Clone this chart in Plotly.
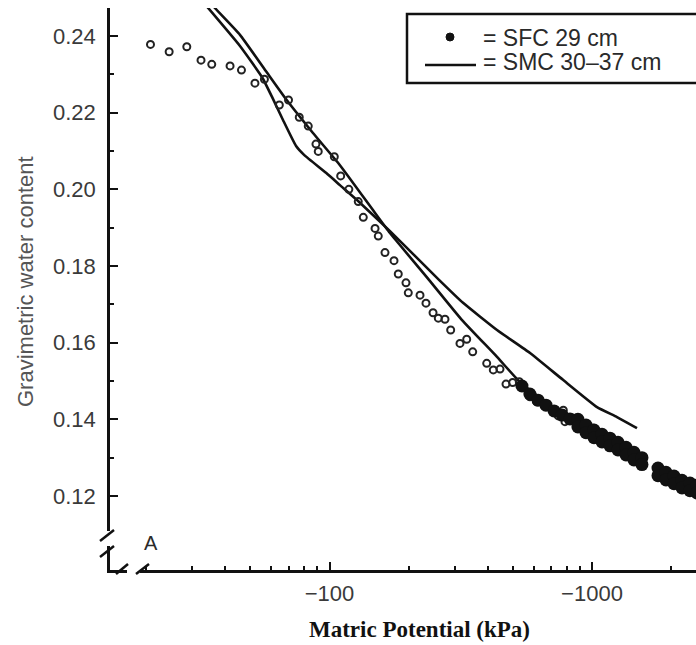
import plotly.graph_objects as go

# ---------------- data ----------------
# SFC 29 cm: sparse measured points (matric potential kPa, gravimetric water content)
sfc_psi = [-20.8, -24.5, -28.6, -32.4, -35.6, -41.8, -46.2, -52.0, -56.5, -64.4,
           -69.8, -76.7, -83.0, -88.8, -90.6, -104.3, -110.3, -118.5, -128.7, -134.5,
           -149.1, -153.4, -162.7, -176.1, -182.8, -195.6, -199.6, -221.2, -233.1, -248.0,
           -259.7, -275.4, -289.5, -314.1, -333.2, -351.2, -397.1, -420.7, -446.2, -470.3,
           -498.7, -528.4, -580.5, -615.6, -662.2, -712.0, -744.0, -777.5, -789.0, -849.0,
           -1012.0]
sfc_theta = [0.2378, 0.2359, 0.2372, 0.2337, 0.2326, 0.2322, 0.2311, 0.2277, 0.2287, 0.2220,
             0.2233, 0.2188, 0.2165, 0.2118, 0.2099, 0.2085, 0.2035, 0.2000, 0.1968, 0.1927,
             0.1898, 0.1878, 0.1835, 0.1814, 0.1779, 0.1756, 0.1730, 0.1724, 0.1703, 0.1678,
             0.1664, 0.1661, 0.1633, 0.1598, 0.1609, 0.1576, 0.1546, 0.1529, 0.1531, 0.1492,
             0.1496, 0.1498, 0.1459, 0.1446, 0.1437, 0.1420, 0.1409, 0.1424, 0.1394, 0.1403,
             0.1377]

# SFC 29 cm: densely logged part (points overlap into a solid band)
sfc_dense_psi = [-541, -580, -623, -668, -717, -769, -824,
                 -884, -884, -949, -949, -1018, -1018, -1092, -1092, -1171, -1171,
                 -1256, -1256, -1348, -1348, -1445, -1445, -1550, -1550,
                 -1784, -1784, -1914, -1914, -2053, -2053, -2202, -2202,
                 -2362, -2362, -2512, -2512]
sfc_dense_theta = [0.1487, 0.1466, 0.1450, 0.1437, 0.1422, 0.1411, 0.1401,
                   0.1400, 0.1380, 0.1385, 0.1365, 0.1372, 0.1352, 0.1361, 0.1341, 0.1351, 0.1331,
                   0.1340, 0.1320, 0.1327, 0.1307, 0.1314, 0.1294, 0.1300, 0.1282,
                   0.1273, 0.1253, 0.1262, 0.1242, 0.1252, 0.1232, 0.1241, 0.1221,
                   0.1234, 0.1214, 0.1228, 0.1208]

# SMC 30-37 cm: two curves
smc1_psi = [-34.7, -36.6, -45.6, -57.6, -68.7, -86.5, -109.6, -146.4, -170.0, -239.3,
            -319.8, -434.6, -531.8, -755.3, -1073, -1336]
smc1_theta = [0.2494, 0.2473, 0.2403, 0.2306, 0.2233, 0.2147, 0.2063, 0.1946, 0.1886, 0.1764,
              0.1659, 0.1563, 0.1497, 0.1419, 0.1364, 0.1328]

smc2_psi = [-32.5, -45.6, -55.3, -60.4, -66.5, -74.6, -80.0, -97.0, -109.6, -127.3,
            -170.0, -261.3, -322.6, -434.6, -580.5, -775.3, -1045, -1245, -1484]
smc2_theta = [0.2494, 0.2374, 0.2293, 0.2241, 0.2181, 0.2113, 0.2090, 0.2043, 0.2011, 0.1972,
              0.1891, 0.1764, 0.1704, 0.1633, 0.1573, 0.1503, 0.1432, 0.1406, 0.1377]

x_tick_vals = [100, 1000]
x_tick_text = ["\u2212100", "\u22121000"]
x_minor_vals = [20, 30, 40, 50, 60, 70, 80, 90, 200, 300, 400, 500, 600, 700, 800, 900, 2000]

legend_labels = ["= SFC 29 cm", "= SMC 30\u201337 cm"]

# ---------------- figure ----------------
W, H = 696, 645
ML, MR, MT, MB = 110, 0, 8, 75
PW, PH = W - ML - MR, H - MT - MB


def px(x):
    return (x - ML) / PW


def py(y):
    return (H - MB - y) / PH


fig = go.Figure()

fig.add_trace(go.Scatter(x=[-v for v in smc1_psi], y=smc1_theta, mode="lines",
                         line=dict(color="#111111", width=2.6, shape="spline", smoothing=0.4),
                         showlegend=False))
fig.add_trace(go.Scatter(x=[-v for v in smc2_psi], y=smc2_theta, mode="lines",
                         line=dict(color="#111111", width=2.6, shape="spline", smoothing=0.4),
                         showlegend=False))
fig.add_trace(go.Scatter(x=[-v for v in sfc_psi], y=sfc_theta, mode="markers",
                         marker=dict(symbol="circle-open", size=7, color="#222222",
                                     line=dict(width=2, color="#222222")),
                         showlegend=False))
fig.add_trace(go.Scatter(x=[-v for v in sfc_dense_psi], y=sfc_dense_theta, mode="markers",
                         marker=dict(symbol="circle", size=13, color="#111111",
                                     line=dict(width=0)),
                         showlegend=False))

tick_font = dict(family="Liberation Sans, Arial, sans-serif", size=22, color="#3a3a3a")

fig.update_xaxes(type="log", range=[1.1638, 3.3962],
                 tickvals=x_tick_vals, ticktext=x_tick_text,
                 ticks="inside", ticklen=8, tickwidth=2, tickcolor="#111",
                 showline=True, linewidth=2.5, linecolor="#111",
                 showgrid=False, zeroline=False, tickfont=tick_font,
                 ticklabelstandoff=2,
                 minor=dict(tickvals=x_minor_vals, ticks="inside", ticklen=4,
                            tickwidth=2, tickcolor="#111", showgrid=False))
fig.update_yaxes(range=[0.1007, 0.2473], tick0=0, dtick=0.02, tickformat=".2f",
                 ticks="inside", ticklen=8, tickwidth=2, tickcolor="#111",
                 showline=True, linewidth=2.5, linecolor="#111",
                 showgrid=False, zeroline=False, tickfont=tick_font,
                 ticklabelstandoff=7,
                 minor=dict(dtick=0.01, tick0=0, ticks="inside", ticklen=4,
                            tickwidth=2, tickcolor="#111", showgrid=False))

shapes = []
# axis breaks
shapes.append(dict(type="rect", xref="paper", yref="paper",
                   x0=px(100), x1=px(120), y0=py(546), y1=py(531),
                   fillcolor="white", line=dict(width=0), layer="above"))
shapes.append(dict(type="rect", xref="paper", yref="paper",
                   x0=px(127), x1=px(140), y0=py(576), y1=py(563),
                   fillcolor="white", line=dict(width=0), layer="above"))
for (xa, ya, xb, yb) in [(100, 541, 114, 530), (100, 557, 114, 546),
                         (116, 574, 128, 564), (136, 574, 149, 564)]:
    shapes.append(dict(type="line", xref="paper", yref="paper",
                       x0=px(xa), y0=py(ya), x1=px(xb), y1=py(yb),
                       line=dict(color="#111", width=2.5), layer="above"))
# legend box
shapes.append(dict(type="rect", xref="paper", yref="paper",
                   x0=px(407), x1=px(712), y0=py(83), y1=py(14),
                   fillcolor="white", line=dict(color="#111", width=2.5), layer="above"))
shapes.append(dict(type="circle", xref="paper", yref="paper",
                   x0=px(446), x1=px(454), y0=py(41), y1=py(33),
                   fillcolor="#111", line=dict(color="#111", width=1), layer="above"))
shapes.append(dict(type="line", xref="paper", yref="paper",
                   x0=px(425), x1=px(476), y0=py(65), y1=py(65),
                   line=dict(color="#111", width=2.5), layer="above"))
fig.update_layout(shapes=shapes)

sans = "Liberation Sans, Arial, sans-serif"
annotations = [
    dict(text=legend_labels[0], x=px(481), y=py(37.5), xref="paper", yref="paper",
         xanchor="left", yanchor="middle", showarrow=False,
         font=dict(family=sans, size=23, color="#2a2a2a")),
    dict(text=legend_labels[1], x=px(481), y=py(62), xref="paper", yref="paper",
         xanchor="left", yanchor="middle", showarrow=False,
         font=dict(family=sans, size=23, color="#2a2a2a")),
    dict(text="A", x=px(151), y=py(543), xref="paper", yref="paper",
         xanchor="center", yanchor="middle", showarrow=False,
         font=dict(family=sans, size=20, color="#2a2a2a")),
    dict(text="<b>Matric Potential (kPa)</b>", x=px(419), y=py(629), xref="paper", yref="paper",
         xanchor="center", yanchor="middle", showarrow=False,
         font=dict(family="Liberation Serif, Times New Roman, serif", size=23, color="#111")),
    dict(text="Gravimetric water content", x=px(25), y=py(282), xref="paper", yref="paper",
         xanchor="center", yanchor="middle", showarrow=False, textangle=-90,
         font=dict(family=sans, size=22, color="#555555")),
]
fig.update_layout(annotations=annotations)

fig.update_layout(width=W, height=H, margin=dict(l=ML, r=MR, t=MT, b=MB),
                  plot_bgcolor="white", paper_bgcolor="white", showlegend=False)

fig.write_html("out.html")
